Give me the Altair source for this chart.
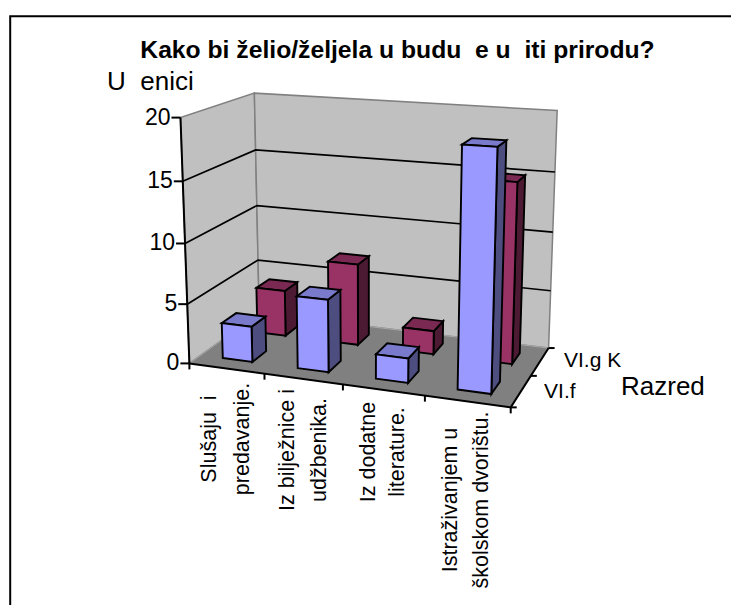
import numpy as np
import altair as alt

# ---- values ----
categories = ["Slušaju i predavanje.", "Iz bilježnice i udžbenika.", "Iz dodatne literature.", "Istraživanjem u školskom dvorištu."]
series_names = ["VI.f", "VI.g K"]
vi_f = [3, 6, 2, 19]
vi_g = [4, 7, 2, 15]
y_ticks = [0, 5, 10, 15, 20]
title_text = "Kako bi želio/željela u budu\u00a0\u00a0e u\u00a0\u00a0iti prirodu?"
y_title = "U\u00a0\u00a0enici"
z_title = "Razred"
cat_lines = [["Slušaju\u00a0\u00a0i", "predavanje."], ["Iz bilježnice i", "udžbenika."],
             ["Iz dodatne", "literature."], ["Istraživanjem u", "školskom dvorištu."]]

# ---- camera: calibration of a projective view from the chart box ----
calib = [
    ((0,0,0),(190,362)),((1,0,0),(264,375)),((2,0,0),(342,387)),((3,0,0),(424,397)),((4,0,0),(510,405)),
    ((0,0,5),(188,304)),((0,0,10),(186,243)),((0,0,15),(183,181)),((0,0,20),(180,117)),
    ((0,2,20),(254,94)),((0,2,15),(255,149.7)),((0,2,10),(256.5,205.7)),((0,2,5),(258,259)),((0,2,0),(259.5,314)),
    ((4,2,20),(558,112)),((4,2,15),(555,171)),((4,2,10),(552,232)),((4,2,5),(551,291)),((4,2,0),(548,347)),
    ((4,1,0),(533,376)),
]
S = 300.0
A = []
for (u,v,w),(x,y) in calib:
    x, y, w2 = x/S, y/S, w/5
    A.append([u,v,w2,1,0,0,0,0,-x*u,-x*v,-x*w2,-x])
    A.append([0,0,0,0,u,v,w2,1,-y*u,-y*v,-y*w2,-y])
p = np.linalg.svd(np.array(A,float))[2][-1]

def resid(p):
    M = p.reshape(3,4)
    out = []
    for (u,v,w),(x,y) in calib:
        h = M @ np.array([u,v,w/5,1.0])
        out += [S*h[0]/h[2]-x, S*h[1]/h[2]-y]
    return np.array(out)
for _ in range(30):
    r = resid(p)
    J = np.zeros((len(r),12))
    for i in range(12):
        d = np.zeros(12); d[i] = 1e-6
        J[:,i] = (resid(p+d)-r)/1e-6
    p = p + np.linalg.lstsq(J.T@J+1e-6*np.eye(12), -J.T@r, rcond=None)[0]
P = p.reshape(3,4)

OX, OY = 8, 8
def pr(u,v,w):
    h = P @ np.array([u,v,w/5,1.0])
    return [float(S*h[0]/h[2]-OX), float(S*h[1]/h[2]-OY)]

def poly(pts, fill, stroke, sw=1.5):
    return {"type":"Feature","properties":{"fill":fill,"stroke":stroke,"sw":sw},
            "geometry":{"type":"Polygon","coordinates":[pts+[pts[0]]]}}
def line(pts, stroke, sw=1.5):
    return {"type":"Feature","properties":{"fill":"none","stroke":stroke,"sw":sw},
            "geometry":{"type":"LineString","coordinates":pts}}

WALL, EDGE, FLOOR = "#c0c0c0", "#808080", "#808080"
feat = []
# frame: only the top and left edges are in view
feat.append(line([[2.2,700],[2.2,8.2],[740,8.2]], "#000000", 2))
# walls
feat.append(poly([pr(0,0,0),pr(0,2,0),pr(0,2,20),pr(0,0,20)], WALL, EDGE, 1.5))
feat.append(poly([pr(0,2,0),pr(4,2,0),pr(4,2,20),pr(0,2,20)], WALL, EDGE, 1.5))
# gridlines
for t in y_ticks[1:-1]:
    feat.append(line([pr(0,0,t),pr(0,2,t),pr(4,2,t)], "#000000", 1.7))
# floor
feat.append(poly([pr(0,0,0),pr(4,0,0),pr(4,2,0),pr(0,2,0)], FLOOR, "#a8a8a8", 1))
# axes
feat.append(line([pr(0,0,0),pr(0,0,20)], "#000000", 2))
feat.append(line([pr(0,0,0),pr(4,0,0),pr(4,2,0)], "#000000", 2))
for t in y_ticks:
    a = pr(0,0,t); feat.append(line([a,[a[0]-9,a[1]]], "#000000", 2))
for c in range(5):
    a = pr(c,0,0); feat.append(line([a,[a[0],a[1]+6]], "#000000", 2))
for d in range(3):
    a = pr(4,d,0); feat.append(line([a,[a[0]+6,a[1]]], "#000000", 2))

# bars: gap width / depth 150 %
BW = 1.9
def bar(c, s, val, face, top, side):
    u0,u1 = c+0.3, c+0.7
    v0,v1 = s+0.3, s+0.7
    out = [poly([pr(u1,v0,0),pr(u1,v1,0),pr(u1,v1,val),pr(u1,v0,val)], side, "#000000", BW),
           poly([pr(u0,v0,val),pr(u1,v0,val),pr(u1,v1,val),pr(u0,v1,val)], top, "#000000", BW),
           poly([pr(u0,v0,0),pr(u1,v0,0),pr(u1,v0,val),pr(u0,v0,val)], face, "#000000", BW)]
    return out
for c,val in enumerate(vi_g):
    feat += bar(c,1,val,"#993366","#7a2952","#4d1a33")
for c,val in enumerate(vi_f):
    feat += bar(c,0,val,"#9999ff","#7a7acc","#4d4d80")

shapes = alt.Chart(alt.Data(values=feat)).mark_geoshape().encode(
    fill=alt.Fill("properties.fill:N", scale=None),
    stroke=alt.Stroke("properties.stroke:N", scale=None),
    strokeWidth=alt.StrokeWidth("properties.sw:Q", scale=None),
).project(type="identity", scale=1, translate=[0,0])

FONT = "Liberation Sans"
def texts(rows, **kw):
    return alt.Chart(alt.Data(values=rows)).mark_text(font=FONT, color="#000000", **kw).encode(
        x=alt.X("x:Q", scale=None, axis=None), y=alt.Y("y:Q", scale=None, axis=None), text="t:N")

title = texts([{"x":397.5-OX,"y":51-OY,"t":title_text}], fontSize=24.7, fontWeight="bold", align="center", baseline="middle")
ytitle = texts([{"x":107-OX,"y":82-OY,"t":y_title}], fontSize=26, align="left", baseline="middle")
ztitle = texts([{"x":621-OX,"y":387-OY,"t":z_title}], fontSize=26, align="left", baseline="middle")
ylab = texts([{"x":pr(0,0,t)[0]-10,"y":pr(0,0,t)[1],"t":str(t)} for t in y_ticks], fontSize=23, align="right", baseline="middle")
zlab = texts([{"x":pr(4,d+0.5,0)[0]+ox,"y":pr(4,d+0.5,0)[1]+oy,"t":n} for d,n,ox,oy in [(0,"VI.f",23,1),(1,"VI.g K",24,-1)]], fontSize=21, align="left", baseline="middle")
cat_rows = []
line_x = [[210,243],[288,320],[369,398],[451,482]]
line_y = [439,450,452,500]
for ls,xs,yc in zip(cat_lines,line_x,line_y):
    for l,x in zip(ls,xs):
        cat_rows.append({"x":x-OX,"y":yc-OY,"t":l})
clab = texts(cat_rows, fontSize=21.5, align="center", baseline="middle", angle=270)

chart = alt.layer(shapes,title,ytitle,ztitle,ylab,zlab,clab).properties(
    width=723,height=597,padding=0,autosize=alt.AutoSizeParams(type="none")
).configure_view(stroke=None)
chart.save("out.html", embed_options={"renderer":"svg","actions":False})
